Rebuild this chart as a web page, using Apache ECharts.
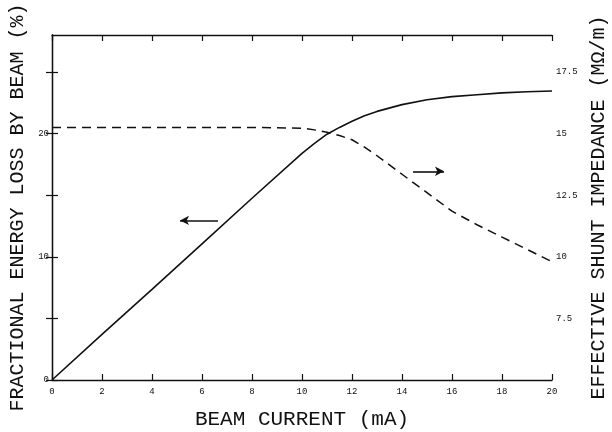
<!DOCTYPE html>
<html>
<head>
<meta charset="utf-8">
<script src="https://cdn.jsdelivr.net/npm/echarts@6/dist/echarts.min.js"></script>
<style>
  html, body { margin: 0; padding: 0; background: #fff; }
  #main { width: 612px; height: 432px; }
</style>
</head>
<body>
<div id="main"></div>
<script>
// data
var beamCurrent = [0, 2, 4, 6, 8, 10, 10.5, 11, 11.5, 12, 12.5, 13, 14, 15, 16, 17, 18, 19, 20];
var energyLoss = [0, 3.7, 7.35, 11.05, 14.75, 18.4, 19.2, 19.95, 20.5, 21.0, 21.45, 21.8, 22.35, 22.75, 23.0, 23.15, 23.3, 23.4, 23.45];
var shuntImpedance = [15.25, 15.25, 15.25, 15.25, 15.25, 15.22, 15.15, 15.05, 14.92, 14.75, 14.45, 14.1, 13.35, 12.6, 11.85, 11.3, 10.8, 10.3, 9.8];
var xTicks = [0, 2, 4, 6, 8, 10, 12, 14, 16, 18, 20];
var leftLabels = [0, 10, 20];
var rightLabels = [7.5, 10, 12.5, 15, 17.5];

(function () {
    var font = 'Liberation Mono';
    var ink = '#111';

    function pairs(xs, ys) {
        return xs.map(function (x, i) { return [x, ys[i]]; });
    }

    var xBase = {
        type: 'value',
        min: xTicks[0],
        max: xTicks[xTicks.length - 1],
        interval: 2,
        axisLine: { show: true, onZero: false, lineStyle: { color: ink, width: 1.3 } },
        axisTick: { show: true, inside: true, length: 6, lineStyle: { color: ink, width: 1.2 } },
        splitLine: { show: false }
    };

    var option = {
        animation: false,
        backgroundColor: '#fff',
        // keep the plot box fixed, names sit outside it
        grid: { left: 52, right: 60, top: 35, bottom: 52, outerBoundsMode: 'none', containLabel: false },
        xAxis: [
            Object.assign({}, xBase, {
                position: 'bottom',
                name: 'BEAM CURRENT (mA)',
                nameLocation: 'middle',
                nameGap: 29,
                nameTextStyle: { fontFamily: font, fontSize: 21, color: ink },
                axisLabel: {
                    fontFamily: font, fontSize: 9, color: ink, margin: 7,
                    formatter: function (v) { return xTicks.indexOf(v) >= 0 ? String(v) : ''; }
                }
            }),
            Object.assign({}, xBase, {
                position: 'top',
                axisLabel: { show: false }
            })
        ],
        yAxis: [
            {
                type: 'value',
                min: 0,
                max: 28,
                interval: 5,
                position: 'left',
                name: 'FRACTIONAL ENERGY LOSS BY BEAM (%)',
                nameLocation: 'middle',
                nameRotate: 90,
                nameGap: 23,
                nameTextStyle: { fontFamily: font, fontSize: 20, color: ink },
                axisLine: { show: true, lineStyle: { color: ink, width: 1.3 } },
                axisTick: { show: true, inside: true, length: 6, lineStyle: { color: ink, width: 1.2 } },
                splitLine: { show: false },
                axisLabel: {
                    fontFamily: font, fontSize: 9, color: ink, margin: 3,
                    showMaxLabel: false,
                    formatter: function (v) { return leftLabels.indexOf(v) >= 0 ? String(v) : ''; }
                }
            },
            {
                type: 'value',
                min: 5,
                max: 19,
                interval: 2.5,
                position: 'right',
                name: 'EFFECTIVE SHUNT IMPEDANCE (MΩ/m)',
                nameLocation: 'middle',
                nameRotate: 90,
                nameGap: 35,
                nameTextStyle: { fontFamily: font, fontSize: 20, color: ink },
                axisLine: { show: true, lineStyle: { color: ink, width: 1.3 } },
                axisTick: { show: true, inside: true, length: 6, lineStyle: { color: ink, width: 1.2 } },
                splitLine: { show: false },
                axisLabel: {
                    fontFamily: font, fontSize: 9, color: ink, margin: 4,
                    showMaxLabel: false,
                    formatter: function (v) { return rightLabels.indexOf(v) >= 0 ? String(v) : ''; }
                }
            }
        ],
        series: [
            {
                name: 'energy loss',
                type: 'line',
                xAxisIndex: 0,
                yAxisIndex: 0,
                data: pairs(beamCurrent, energyLoss),
                showSymbol: false,
                lineStyle: { color: ink, width: 1.6 },
                // arrow pointing to the left axis
                markLine: {
                    silent: true,
                    symbol: ['none', 'arrow'],
                    symbolSize: [7, 9],
                    label: { show: false },
                    lineStyle: { color: ink, width: 1.6, type: 'solid' },
                    data: [[{ coord: [6.64, 12.95] }, { coord: [5.12, 12.95] }]]
                }
            },
            {
                name: 'shunt impedance',
                type: 'line',
                xAxisIndex: 0,
                yAxisIndex: 1,
                data: pairs(beamCurrent, shuntImpedance),
                showSymbol: false,
                lineStyle: { color: ink, width: 1.5, type: [9, 6] },
                // arrow pointing to the right axis
                markLine: {
                    silent: true,
                    symbol: ['none', 'arrow'],
                    symbolSize: [7, 9],
                    label: { show: false },
                    lineStyle: { color: ink, width: 1.6, type: 'solid' },
                    data: [[{ coord: [14.44, 13.47] }, { coord: [15.68, 13.47] }]]
                }
            }
        ]
    };

    var myChart = echarts.init(document.getElementById('main'));
    myChart.setOption(option);
})();
</script>
</body>
</html>
